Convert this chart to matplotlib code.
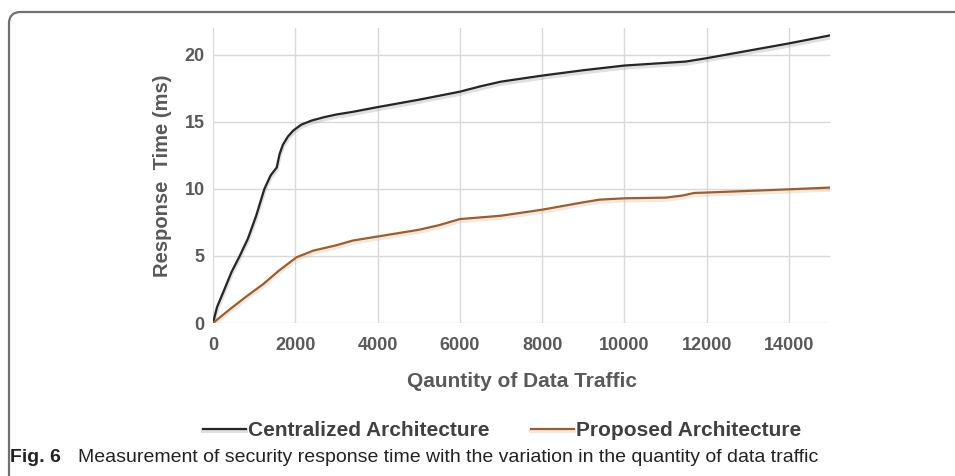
import matplotlib
matplotlib.use('Agg')
import matplotlib.pyplot as plt
import matplotlib.patheffects as pe
from matplotlib.patches import FancyBboxPatch

# traffic quantity and response times (ms)
traffic_c = [0, 100, 250, 450, 650, 850, 1050, 1250, 1400, 1550, 1620, 1700,
             1820, 1950, 2150, 2400, 2700, 3000, 3400, 4000, 5000, 6000, 6500,
             7000, 8000, 9000, 10000, 11000, 11500, 12000, 13000, 14000, 15000]
central = [0, 1.2, 2.3, 3.8, 5.0, 6.3, 8.0, 10.0, 11.0, 11.6, 12.6, 13.3,
           13.9, 14.35, 14.8, 15.1, 15.35, 15.55, 15.75, 16.1, 16.65, 17.25, 17.65,
           18.0, 18.45, 18.85, 19.2, 19.4, 19.5, 19.75, 20.3, 20.85, 21.45]

traffic_p = [0, 400, 820, 1220, 1600, 2030, 2440, 3000, 3400, 4000, 5000, 5500,
             6000, 7000, 8000, 9000, 9400, 10000, 11000, 11400, 11700, 12000, 14000, 15000]
proposed = [0, 1.0, 2.0, 2.9, 3.9, 4.9, 5.4, 5.8, 6.15, 6.45, 6.95, 7.3,
            7.75, 8.0, 8.45, 9.0, 9.2, 9.3, 9.35, 9.5, 9.7, 9.73, 9.97, 10.1]

x_ticks = [0, 2000, 4000, 6000, 8000, 10000, 12000, 14000]
y_ticks = [0, 5, 10, 15, 20]

sans = 'Liberation Sans'

fig = plt.figure(figsize=(9.55, 4.76), dpi=100)

# outer frame, only the top-left corner is rounded and visible
frame = FancyBboxPatch((9 / 955, -0.5), 2.0, 1.5 - 12 / 476,
                       boxstyle='round,pad=0,rounding_size=0.012',
                       transform=fig.transFigure, fill=False,
                       edgecolor='#707070', linewidth=1.6, mutation_aspect=2.0)
fig.patches.append(frame)

ax = fig.add_axes([213 / 955, 1 - 323 / 476, 617 / 955, (323 - 28) / 476])

ax.plot(traffic_c, central, color='#262626', lw=1.6, solid_joinstyle='round',
        path_effects=[pe.SimpleLineShadow(offset=(0, -1.5), shadow_color='#999999', alpha=0.3, linewidth=3),
                      pe.Normal()])
ax.plot(traffic_p, proposed, color='#93603d', lw=1.6, solid_joinstyle='round',
        path_effects=[pe.SimpleLineShadow(offset=(0, -1.5), shadow_color='#f0b070', alpha=0.3, linewidth=3),
                      pe.Normal()])

ax.set_xlim(0, 15000)
ax.set_ylim(0, 22)
ax.set_xticks(x_ticks)
ax.set_yticks(y_ticks)
ax.grid(True, color='#d9d9d9', lw=1)
ax.set_axisbelow(True)
for s in ax.spines.values():
    s.set_visible(False)
ax.tick_params(axis='x', length=0, pad=10, labelcolor='#595959')
ax.tick_params(axis='y', length=0, pad=6, labelcolor='#595959')
for lab in ax.get_xticklabels() + ax.get_yticklabels():
    lab.set_fontfamily(sans)
    lab.set_fontweight('bold')
    lab.set_fontsize(13)

ax.set_xlabel('Qauntity of Data Traffic', fontfamily=sans, fontweight='bold',
              fontsize=15, color='#595959', labelpad=13)
ax.set_ylabel('Response  Time (ms)', fontfamily=sans, fontweight='bold',
              fontsize=14.5, color='#595959', labelpad=9)

# legend below the axes
ax.legend(['Centralized Architecture', 'Proposed Architecture'], loc='center',
          bbox_to_anchor=(502 / 955, 1 - 431 / 476), bbox_transform=fig.transFigure,
          ncol=2, frameon=False, handlelength=2.05, handletextpad=0.1, columnspacing=2.0,
          prop={'family': sans, 'weight': 'bold', 'size': 15}, labelcolor='#404040')

fig.text(10 / 955, 1 - 458 / 476, 'Fig. 6', fontfamily=sans, fontweight='bold',
         fontsize=14, va='center', color='#222222')
fig.text(78 / 955, 1 - 458 / 476,
         'Measurement of security response time with the variation in the quantity of data traffic',
         fontfamily=sans, fontsize=14, va='center', color='#222222')

fig.savefig('out.png', dpi=100)
